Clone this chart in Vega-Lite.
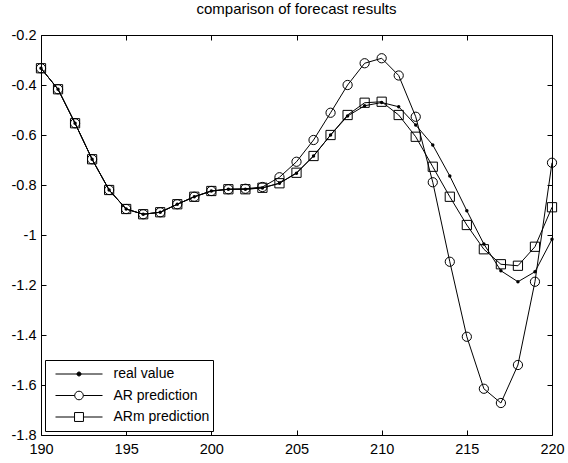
{
  "$schema": "https://vega.github.io/schema/vega-lite/v6.json",
  "width": 511,
  "height": 400,
  "autosize": "none",
  "padding": {"left": 41, "top": 35, "right": 16, "bottom": 28},
  "background": "white",
  "title": {"text": "comparison of forecast results", "fontSize": 15, "font": "Liberation Sans", "fontWeight": "normal", "color": "black", "offset": 10, "anchor": "middle"},
  "config": {
    "view": {"stroke": null},
    "axis": {"grid": false, "domainColor": "black", "domainWidth": 1, "tickColor": "black", "tickWidth": 1, "tickSize": -5, "labelFont": "Liberation Sans", "labelFontSize": 14.5, "labelColor": "black", "title": null, "labelFlush": false, "labelOverlap": false},
    "legend": {"orient": "bottom-left", "offset": 4, "padding": 3.5, "rowPadding": 0.5, "clipHeight": 21, "symbolSize": 2209, "symbolOffset": 6.5, "labelOffset": 10.5, "symbolStrokeWidth": 1, "symbolStrokeColor": "black", "strokeColor": "black", "fillColor": "white", "labelFont": "Liberation Sans", "labelFontSize": 14, "labelColor": "black", "labelLimit": 300}
  },
  "data": {"values": [
    {"x":190,"y":-0.333,"s":"real value"},{"x":191,"y":-0.417,"s":"real value"},{"x":192,"y":-0.553,"s":"real value"},{"x":193,"y":-0.697,"s":"real value"},{"x":194,"y":-0.82,"s":"real value"},{"x":195,"y":-0.896,"s":"real value"},{"x":196,"y":-0.917,"s":"real value"},{"x":197,"y":-0.909,"s":"real value"},{"x":198,"y":-0.877,"s":"real value"},{"x":199,"y":-0.847,"s":"real value"},{"x":200,"y":-0.824,"s":"real value"},{"x":201,"y":-0.817,"s":"real value"},{"x":202,"y":-0.817,"s":"real value"},{"x":203,"y":-0.812,"s":"real value"},{"x":204,"y":-0.793,"s":"real value"},{"x":205,"y":-0.753,"s":"real value"},{"x":206,"y":-0.684,"s":"real value"},{"x":207,"y":-0.6,"s":"real value"},{"x":208,"y":-0.524,"s":"real value"},{"x":209,"y":-0.483,"s":"real value"},{"x":210,"y":-0.47,"s":"real value"},{"x":211,"y":-0.487,"s":"real value"},{"x":212,"y":-0.56,"s":"real value"},{"x":213,"y":-0.64,"s":"real value"},{"x":214,"y":-0.764,"s":"real value"},{"x":215,"y":-0.903,"s":"real value"},{"x":216,"y":-1.036,"s":"real value"},{"x":217,"y":-1.143,"s":"real value"},{"x":218,"y":-1.187,"s":"real value"},{"x":219,"y":-1.147,"s":"real value"},{"x":220,"y":-1.017,"s":"real value"},
    {"x":190,"y":-0.333,"s":"AR prediction"},{"x":191,"y":-0.417,"s":"AR prediction"},{"x":192,"y":-0.553,"s":"AR prediction"},{"x":193,"y":-0.697,"s":"AR prediction"},{"x":194,"y":-0.82,"s":"AR prediction"},{"x":195,"y":-0.896,"s":"AR prediction"},{"x":196,"y":-0.917,"s":"AR prediction"},{"x":197,"y":-0.909,"s":"AR prediction"},{"x":198,"y":-0.877,"s":"AR prediction"},{"x":199,"y":-0.847,"s":"AR prediction"},{"x":200,"y":-0.824,"s":"AR prediction"},{"x":201,"y":-0.817,"s":"AR prediction"},{"x":202,"y":-0.815,"s":"AR prediction"},{"x":203,"y":-0.808,"s":"AR prediction"},{"x":204,"y":-0.769,"s":"AR prediction"},{"x":205,"y":-0.707,"s":"AR prediction"},{"x":206,"y":-0.62,"s":"AR prediction"},{"x":207,"y":-0.511,"s":"AR prediction"},{"x":208,"y":-0.4,"s":"AR prediction"},{"x":209,"y":-0.313,"s":"AR prediction"},{"x":210,"y":-0.293,"s":"AR prediction"},{"x":211,"y":-0.362,"s":"AR prediction"},{"x":212,"y":-0.527,"s":"AR prediction"},{"x":213,"y":-0.789,"s":"AR prediction"},{"x":214,"y":-1.107,"s":"AR prediction"},{"x":215,"y":-1.407,"s":"AR prediction"},{"x":216,"y":-1.615,"s":"AR prediction"},{"x":217,"y":-1.672,"s":"AR prediction"},{"x":218,"y":-1.52,"s":"AR prediction"},{"x":219,"y":-1.187,"s":"AR prediction"},{"x":220,"y":-0.711,"s":"AR prediction"},
    {"x":190,"y":-0.333,"s":"ARm prediction"},{"x":191,"y":-0.417,"s":"ARm prediction"},{"x":192,"y":-0.553,"s":"ARm prediction"},{"x":193,"y":-0.697,"s":"ARm prediction"},{"x":194,"y":-0.82,"s":"ARm prediction"},{"x":195,"y":-0.896,"s":"ARm prediction"},{"x":196,"y":-0.917,"s":"ARm prediction"},{"x":197,"y":-0.909,"s":"ARm prediction"},{"x":198,"y":-0.877,"s":"ARm prediction"},{"x":199,"y":-0.847,"s":"ARm prediction"},{"x":200,"y":-0.824,"s":"ARm prediction"},{"x":201,"y":-0.817,"s":"ARm prediction"},{"x":202,"y":-0.817,"s":"ARm prediction"},{"x":203,"y":-0.811,"s":"ARm prediction"},{"x":204,"y":-0.793,"s":"ARm prediction"},{"x":205,"y":-0.751,"s":"ARm prediction"},{"x":206,"y":-0.684,"s":"ARm prediction"},{"x":207,"y":-0.6,"s":"ARm prediction"},{"x":208,"y":-0.52,"s":"ARm prediction"},{"x":209,"y":-0.471,"s":"ARm prediction"},{"x":210,"y":-0.467,"s":"ARm prediction"},{"x":211,"y":-0.52,"s":"ARm prediction"},{"x":212,"y":-0.607,"s":"ARm prediction"},{"x":213,"y":-0.727,"s":"ARm prediction"},{"x":214,"y":-0.847,"s":"ARm prediction"},{"x":215,"y":-0.96,"s":"ARm prediction"},{"x":216,"y":-1.057,"s":"ARm prediction"},{"x":217,"y":-1.117,"s":"ARm prediction"},{"x":218,"y":-1.123,"s":"ARm prediction"},{"x":219,"y":-1.047,"s":"ARm prediction"},{"x":220,"y":-0.889,"s":"ARm prediction"}
  ]},
  "layer": [
    {
      "mark": {"type": "line", "color": "black", "strokeWidth": 1},
      "encoding": {
        "x": {"field": "x", "type": "quantitative", "scale": {"domain": [190, 220], "nice": false, "zero": false},
              "axis": {"orient": "bottom", "values": [190, 195, 200, 205, 210, 215, 220], "labelPadding": 12}},
        "y": {"field": "y", "type": "quantitative", "scale": {"domain": [-1.8, -0.2], "nice": false, "zero": false},
              "axis": {"orient": "left", "values": [-1.8, -1.6, -1.4, -1.2, -1, -0.8, -0.6, -0.4, -0.2], "format": "~g", "labelExpr": "replace(datum.label, '\u2212', '-')", "labelPadding": 10}},
        "detail": {"field": "s"}
      }
    },
    {
      "transform": [{"filter": "datum.s === 'AR prediction'"}],
      "mark": {"type": "point", "shape": "circle", "size": 85, "stroke": "black", "strokeWidth": 1, "opacity": 1, "filled": false},
      "encoding": {
        "x": {"field": "x", "type": "quantitative",
              "axis": {"orient": "top", "values": [190, 195, 200, 205, 210, 215, 220], "labels": false}},
        "y": {"field": "y", "type": "quantitative",
              "axis": {"orient": "right", "values": [-1.8, -1.6, -1.4, -1.2, -1, -0.8, -0.6, -0.4, -0.2], "labels": false}}
      }
    },
    {
      "transform": [{"filter": "datum.s === 'ARm prediction'"}],
      "mark": {"type": "point", "shape": "square", "size": 85, "stroke": "black", "strokeWidth": 1, "opacity": 1, "filled": false},
      "encoding": {
        "x": {"field": "x", "type": "quantitative", "axis": null},
        "y": {"field": "y", "type": "quantitative", "axis": null}
      }
    },
    {
      "transform": [{"filter": "datum.s === 'real value'"}],
      "mark": {"type": "circle", "size": 12, "color": "black", "opacity": 1},
      "encoding": {
        "x": {"field": "x", "type": "quantitative", "axis": null},
        "y": {"field": "y", "type": "quantitative", "axis": null}
      }
    },
    {
      "transform": [{"filter": "false"}],
      "mark": {"type": "point", "strokeWidth": 1, "opacity": 1},
      "encoding": {
        "shape": {"field": "s", "type": "nominal",
                  "scale": {"domain": ["real value", "AR prediction", "ARm prediction"],
                            "range": ["M-1,0H1M-0.085,0A0.085,0.085,0,1,1,0.085,0A0.085,0.085,0,1,1,-0.085,0Z", "M-1,0H-0.183M-0.183,0A0.183,0.183,0,1,1,0.183,0A0.183,0.183,0,1,1,-0.183,0ZM0.183,0H1", "M-1,0H-0.19M-0.19,-0.19H0.19V0.19H-0.19ZM0.19,0H1"]},
                  "legend": {"title": null, "orient": "bottom-left"}},
        "fill": {"field": "s", "type": "nominal",
                 "scale": {"domain": ["real value", "AR prediction", "ARm prediction"], "range": ["black", "white", "white"]},
                 "legend": {"title": null, "orient": "bottom-left"}},
        "stroke": {"field": "s", "type": "nominal",
                 "scale": {"domain": ["real value", "AR prediction", "ARm prediction"], "range": ["black", "black", "black"]},
                 "legend": {"title": null, "orient": "bottom-left"}}
      }
    }
  ],
  "resolve": {"axis": {"x": "independent", "y": "independent"}}
}
